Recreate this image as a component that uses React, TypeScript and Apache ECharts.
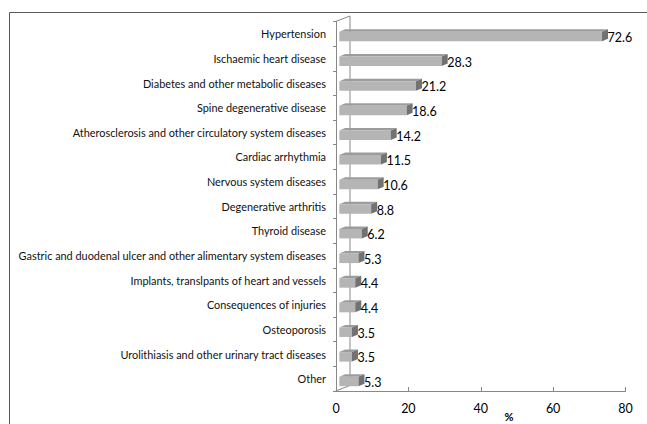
import React, { useEffect, useRef } from "react";
import * as echarts from "echarts";

// Conditions reported, share of patients (%)
const categories: string[] = [
  "Hypertension",
  "Ischaemic heart disease",
  "Diabetes and other metabolic diseases",
  "Spine degenerative disease",
  "Atherosclerosis and other circulatory system diseases",
  "Cardiac arrhythmia",
  "Nervous system diseases",
  "Degenerative arthritis",
  "Thyroid disease",
  "Gastric and duodenal ulcer and other alimentary system diseases",
  "Implants, translpants of heart and vessels",
  "Consequences of injuries",
  "Osteoporosis",
  "Urolithiasis and other urinary tract diseases",
  "Other",
];
const values: number[] = [72.6, 28.3, 21.2, 18.6, 14.2, 11.5, 10.6, 8.8, 6.2, 5.3, 4.4, 4.4, 3.5, 3.5, 5.3];
const xMin = 0;
const xMax = 80;
const xStep = 20;
const xTitle = "%";

// plot frame
const W = 647;
const H = 424;
const GRID_LEFT = 336;
const GRID_RIGHT = 21.5;
const GRID_TOP = 21.5;
const GRID_BOTTOM_Y = 391;
const DEPTH_X = 14.5;
const DEPTH_Y = -5.5;
const FONT = "Lato, 'Open Sans', sans-serif";

export default function App() {
  const ref = useRef<HTMLDivElement>(null);

  useEffect(() => {
    if (!ref.current) return;
    const chart = echarts.init(ref.current, undefined, { renderer: "svg" });

    const barDx = 6;
    const barDy = -2.5;
    const barH = 9.5;

    const renderItem = (params: any, api: any) => {
      const idx = api.value(1);
      const v = api.value(0);
      const zero = api.coord([0, idx]);
      const end = api.coord([v, idx]);
      const x0 = zero[0] + 3.3;
      const x1 = x0 + (end[0] - zero[0]);
      const yc = zero[1] + 2.8;
      const y0 = yc - barH / 2;
      const y1 = yc + barH / 2;
      return {
        type: "group",
        children: [
          {
            type: "polygon",
            shape: { points: [[x0, y0], [x1, y0], [x1 + barDx, y0 + barDy], [x0 + barDx, y0 + barDy]] },
            style: { fill: "#9c9c9c" },
          },
          {
            type: "rect",
            shape: { x: x0, y: y0, width: x1 - x0, height: y1 - y0 },
            style: { fill: "#b5b5b5" },
          },
          {
            type: "polygon",
            shape: { points: [[x1, y0], [x1 + barDx, y0 + barDy], [x1 + barDx, y1 + barDy], [x1, y1]] },
            style: { fill: "#727272" },
          },
          {
            type: "text",
            x: x1 + barDx - 0.5,
            y: yc + 1,
            style: {
              text: values[idx].toFixed(1),
              fill: "#000",
              fontSize: 12.5,
              fontFamily: FONT,
              align: "left",
              verticalAlign: "middle",
            },
          },
        ],
      };
    };

    const axisGray = "#888888";
    const backX = GRID_LEFT - 0.5 + DEPTH_X;

    chart.setOption({
      animation: false,
      grid: {
        left: GRID_LEFT,
        right: GRID_RIGHT,
        top: GRID_TOP,
        bottom: H - GRID_BOTTOM_Y,
        containLabel: false,
      },
      xAxis: {
        type: "value",
        min: xMin,
        max: xMax,
        interval: xStep,
        splitLine: { show: false },
        axisLine: { show: true, lineStyle: { color: axisGray, width: 1 } },
        axisTick: { show: true, inside: true, length: 4, lineStyle: { color: axisGray } },
        axisLabel: { color: "#000", fontSize: 12.5, fontFamily: FONT, margin: 11 },
      },
      yAxis: {
        type: "category",
        data: categories,
        inverse: true,
        axisLine: { show: true, lineStyle: { color: axisGray, width: 1 } },
        axisTick: { show: true, length: 3, lineStyle: { color: axisGray } },
        axisLabel: { color: "#111", fontSize: 10.9, fontFamily: FONT, margin: 10 },
      },
      graphic: [
        {
          type: "rect",
          silent: true,
          shape: { x: 9.5, y: 12.5, width: 700, height: 500 },
          style: { fill: "none", stroke: "#5a5a5a", lineWidth: 1 },
        },
        {
          type: "line",
          silent: true,
          z: -1,
          shape: { x1: GRID_LEFT - 0.5, y1: GRID_TOP, x2: backX, y2: GRID_TOP + DEPTH_Y },
          style: { stroke: axisGray, lineWidth: 1 },
        },
        {
          type: "line",
          silent: true,
          z: -1,
          shape: { x1: backX, y1: GRID_TOP + DEPTH_Y, x2: backX, y2: GRID_BOTTOM_Y + DEPTH_Y },
          style: { stroke: axisGray, lineWidth: 1 },
        },
        {
          type: "line",
          silent: true,
          z: -1,
          shape: { x1: GRID_LEFT - 0.5, y1: GRID_BOTTOM_Y, x2: backX, y2: GRID_BOTTOM_Y + DEPTH_Y },
          style: { stroke: axisGray, lineWidth: 1 },
        },
        {
          type: "text",
          silent: true,
          x: 509,
          y: 411,
          style: {
            text: xTitle,
            fill: "#000",
            fontSize: 11,
            fontWeight: "bold",
            fontFamily: FONT,
            align: "center",
            verticalAlign: "top",
          },
        },
      ],
      series: [
        {
          type: "custom",
          renderItem,
          encode: { x: 0, y: 1 },
          data: values.map((v, i) => [v, i]),
          clip: false,
          z: 5,
        },
      ],
    });

    return () => chart.dispose();
  }, []);

  return (
    <div
      ref={ref}
      style={{ position: "fixed", left: 0, top: 0, width: W, height: H, background: "#fff" }}
    />
  );
}
